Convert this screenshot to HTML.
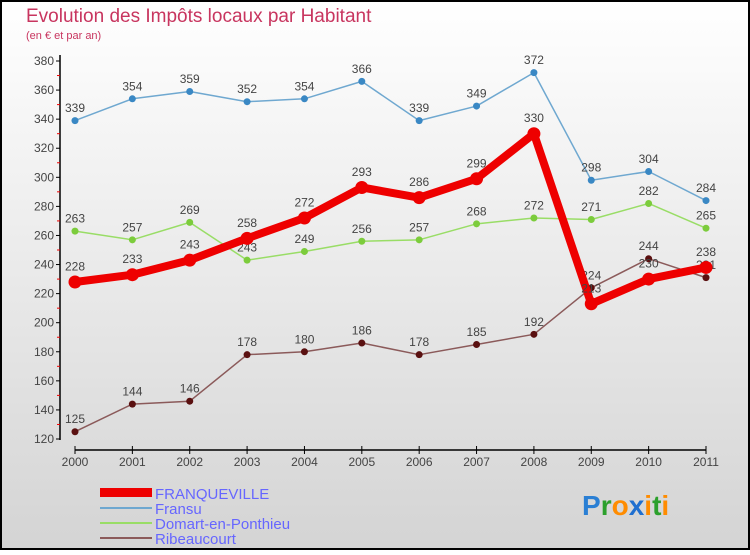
<!DOCTYPE html>
<html><head><meta charset="utf-8"><style>
body{margin:0;width:750px;height:550px;overflow:hidden;font-family:"Liberation Sans",sans-serif}
</style></head><body>
<svg width="750" height="550" xmlns="http://www.w3.org/2000/svg">
<defs><linearGradient id="bg" x1="0" y1="0" x2="0" y2="1"><stop offset="0" stop-color="#ffffff"/><stop offset="1" stop-color="#d4d4d4"/></linearGradient></defs>
<rect x="1" y="1" width="748" height="548" fill="url(#bg)" stroke="#000" stroke-width="2"/>
<text x="26" y="22" font-size="19" fill="#c8355f">Evolution des Impôts locaux par Habitant</text>
<text x="26" y="39" font-size="11" fill="#c8355f">(en € et par an)</text>
<g id="axes"></g><g id="series"></g>
<g>
<rect x="100" y="488" width="52" height="9" fill="#e00"/>
<text x="155" y="499" font-size="15" fill="#6666ff">FRANQUEVILLE</text>
<line x1="100" y1="508" x2="152" y2="508" stroke="#6fa8d0" stroke-width="2"/>
<text x="155" y="514" font-size="15" fill="#6666ff">Fransu</text>
<line x1="100" y1="523" x2="152" y2="523" stroke="#99dd66" stroke-width="2"/>
<text x="155" y="529" font-size="15" fill="#6666ff">Domart-en-Ponthieu</text>
<line x1="100" y1="538" x2="152" y2="538" stroke="#8b5a5a" stroke-width="2"/>
<text x="155" y="544" font-size="15" fill="#6666ff">Ribeaucourt</text>
</g>
<g font-size="28" font-weight="bold">
<text x="582" y="515"><tspan fill="#2a7fd4">P</tspan><tspan fill="#2ca02c">r</tspan><tspan fill="#ff8c00">o</tspan><tspan fill="#1f6fd0">x</tspan><tspan fill="#ff8c00">i</tspan><tspan fill="#2ca02c">t</tspan><tspan fill="#ff8c00">i</tspan></text>
</g>
</svg>
<script>
const years=[2000,2001,2002,2003,2004,2005,2006,2007,2008,2009,2010,2011];
const yTicks=[120,140,160,180,200,220,240,260,280,300,320,340,360,380];
const franqueville=[228,233,243,258,272,293,286,299,330,213,230,238];
const fransu=[339,354,359,352,354,366,339,349,372,298,304,284];
const domart=[263,257,269,243,249,256,257,268,272,271,282,265];
const ribeaucourt=[125,144,146,178,180,186,178,185,192,224,244,231];
const NS="http://www.w3.org/2000/svg";
const xs=i=>75+i*(706-75)/11;
const ys=v=>439-(v-120)*(439-61)/260;
function mk(p,tag,attrs){const e=document.createElementNS(NS,tag);for(const k in attrs)e.setAttribute(k,attrs[k]);p.appendChild(e);return e;}
const ax=document.getElementById('axes');
let l=mk(ax,'line',{x1:60,y1:55,x2:60,y2:440,stroke:'#000','stroke-width':1.5});


l=mk(ax,'line',{x1:75,y1:450,x2:706,y2:450,stroke:'#000','stroke-width':1.5});


yTicks.forEach((v,i)=>{
 const y=ys(v);
 mk(ax,'line',{x1:56,y1:y,x2:60,y2:y,stroke:'#000'});
 if(i<yTicks.length-1) mk(ax,'line',{x1:57,y1:y-(ys(120)-ys(130)),x2:60,y2:y-(ys(120)-ys(130)),stroke:'#e00'});
 const t=mk(ax,'text',{x:54,y:y+4,'font-size':12,'text-anchor':'end',fill:'#444'});
 t.textContent=v;
 
 
});
years.forEach((yr,i)=>{
 const x=xs(i);
 mk(ax,'line',{x1:x,y1:446,x2:x,y2:454,stroke:'#000'});
 const t=mk(ax,'text',{x:x,y:466,'font-size':12,'text-anchor':'middle',fill:'#444'});
 t.textContent=yr;
 
 
});
const sg=document.getElementById('series');
function draw(data,name,color,dot,w,r){
 const g=mk(sg,'g',{});
 
 
 const pl=mk(g,'polyline',{points:data.map((v,i)=>xs(i)+','+ys(v)).join(' '),fill:'none',stroke:color,'stroke-width':w,'stroke-linejoin':'round'});
 
 
 data.forEach((v,i)=>{
  const c=mk(g,'circle',{cx:xs(i),cy:ys(v),r:r,fill:dot});
  
  
  const t=mk(g,'text',{x:xs(i),y:ys(v)-r-5,'font-size':12,'text-anchor':'middle',fill:'#444'});
  t.textContent=v;
  
  
 });
}
draw(ribeaucourt,'ribeaucourt','#8b5a5a','#5a1010',1.5,3.5);
draw(domart,'domart','#99dd66','#7ccc3c',1.5,3.5);
draw(fransu,'fransu','#6fa8d0','#3a88c4',1.5,3.5);
draw(franqueville,'franqueville','#ee0000','#ee0000',8,6.5);
</script>
</body></html>
